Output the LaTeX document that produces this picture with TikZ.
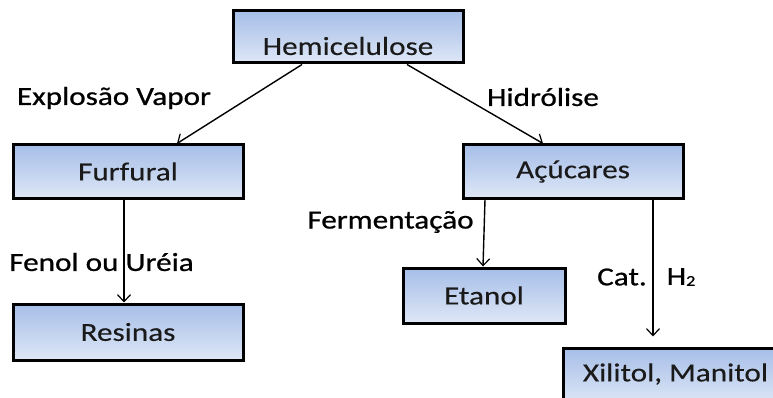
\documentclass[tikz,border=0pt]{standalone}
\usepackage{fontspec}
\setmainfont[FakeStretch=1.2,FakeBold=0.3]{Carlito}
\newfontfamily\lblfont[FakeStretch=1.2,FakeBold=0.8]{Carlito}
\usetikzlibrary{arrows.meta}
\definecolor{boxtop}{HTML}{A6BEE8}
\definecolor{boxbot}{HTML}{DEE7F6}
\definecolor{txt}{HTML}{1A1A1A}
\tikzset{
  box/.style={draw=black, line width=3pt, top color=boxtop, bottom color=boxbot,
    minimum width=#1, inner sep=0pt, text=txt, font=\fontsize{26}{30}\selectfont},
  lbl/.style={inner sep=0pt, text=black, font=\lblfont\fontsize{26}{30}\selectfont},
  conn/.style={line width=1.4pt, -{Straight Barb[length=7pt,width=13pt,line width=1.2pt]}}
}
\begin{document}
\begin{tikzpicture}[x=1pt,y=-1pt]
\useasboundingbox (0,0) rectangle (773,398);
\clip (0,0) rectangle (773,398);
\node[box=230pt, minimum height=52pt] (hemi) at (348,37) {\raisebox{-9pt}[\height][\depth]{Hemicelulose}\hspace{8pt}};
\node[box=230pt, minimum height=53pt] (furf) at (128,171.5) {Furfural\hspace{20pt}};
\node[box=230pt, minimum height=56pt] (resi) at (128,332) {Resinas};
\node[box=220pt, minimum height=53pt] (acuc) at (573,171.5) {Açúcares\hspace{17pt}};
\node[box=162pt, minimum height=55pt] (etan) at (484,295.5) {Etanol\hspace{12pt}};
\node[box=225pt, minimum height=56pt] (xili) at (675.5,376) {\raisebox{2pt}[\height][\depth]{Xilitol, Manitol}\hspace{2pt}};

\draw[conn] ([xshift=-46pt]hemi.south) -- ([xshift=49pt]furf.north);
\draw[conn] ([xshift=59pt]hemi.south) -- ([xshift=-30pt]acuc.north);
\draw[conn] ([xshift=-4pt]furf.south) -- ([xshift=-4pt]resi.north);
\draw[conn] ([xshift=-88pt]acuc.south) -- ([xshift=-1pt]etan.north);
\coordinate (xend) at ([xshift=-22.5pt,yshift=10pt]xili.north);
\draw[conn] ([xshift=80pt]acuc.south) -- (xend);

\node[lbl] (l1) at (114,98) {Explosão Vapor};
\node[lbl] (l2) at (543,97) {Hidrólise};
\node[lbl] (l3) at (101.5,262) {Fenol ou Uréia};
\node[lbl] (l4) at (390.5,222) {Fermentação};
\node[lbl] (l5) at (622,277) {Cat.};
\node[lbl] (l6) at (681,277) {H\raisebox{-1pt}{\fontsize{15}{15}\selectfont 2}};
\end{tikzpicture}
\end{document}
